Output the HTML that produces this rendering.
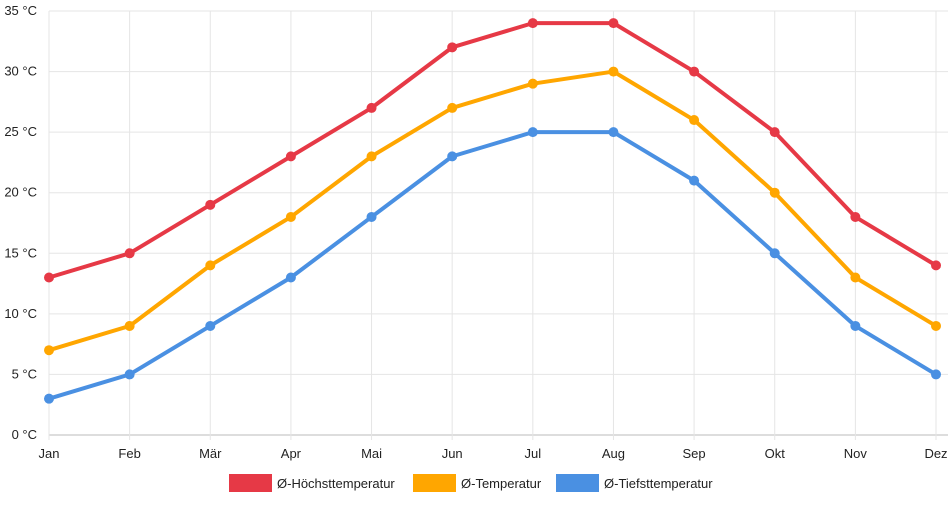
<!DOCTYPE html>
<html><head><meta charset="utf-8"><style>
body{margin:0;background:#fff;font-family:"Liberation Sans",sans-serif;}
svg text{font-family:"Liberation Sans",sans-serif;font-size:13px;fill:#222;}
</style></head><body>
<svg id="chart" width="952" height="500" viewBox="0 0 952 500"></svg>
<script>
const categories=["Jan","Feb","Mär","Apr","Mai","Jun","Jul","Aug","Sep","Okt","Nov","Dez"];
const highTemps=[13,15,19,23,27,32,34,34,30,25,18,14];
const meanTemps=[7,9,14,18,23,27,29,30,26,20,13,9];
const lowTemps=[3,5,9,13,18,23,25,25,21,15,9,5];
const yTicks=[0,5,10,15,20,25,30,35];
const seriesNames=["Ø-Höchsttemperatur","Ø-Temperatur","Ø-Tiefsttemperatur"];
const seriesColors=["#e63946","#ffa600","#4a90e2"];
const svg=document.getElementById('chart');
const NS="http://www.w3.org/2000/svg";
const x0=49,x1=936,yTop=11,yBot=435,yMax=35;
const xs=i=>x0+i*(x1-x0)/(categories.length-1);
const ys=v=>yBot-(v/yMax)*(yBot-yTop);
function mk(t,a){const e=document.createElementNS(NS,t);for(const k in a)e.setAttribute(k,a[k]);svg.appendChild(e);return e;}
yTicks.forEach(v=>{
 const l=mk('line',{x1:x0,x2:x1+12,y1:ys(v),y2:ys(v),stroke:v===0?'#bbb':'#e5e5e5','stroke-width':1});
 
 
 const t=mk('text',{x:37,y:ys(v)+4,'text-anchor':'end'});t.textContent=v+' °C';
 
 
});
categories.forEach((c,i)=>{
 const l=mk('line',{x1:xs(i),x2:xs(i),y1:yTop,y2:yBot+5,stroke:'#e5e5e5','stroke-width':1});
 
 
 const t=mk('text',{x:xs(i),y:458,'text-anchor':'middle'});t.textContent=c;
 
 
});
[highTemps,meanTemps,lowTemps].forEach((s,si)=>{
 const p=mk('polyline',{points:s.map((v,i)=>xs(i)+','+ys(v)).join(' '),fill:'none',stroke:seriesColors[si],'stroke-width':4,'stroke-linejoin':'round'});
 
 
 s.forEach((v,i)=>{
  const c=mk('circle',{cx:xs(i),cy:ys(v),r:5,fill:seriesColors[si]});
  
  
 });
});
const legX=[229,413,556];
seriesNames.forEach((n,i)=>{
 const r=mk('rect',{x:legX[i],y:474,width:43,height:18,fill:seriesColors[i]});
 
 
 const t=mk('text',{x:legX[i]+48,y:488});t.textContent=n;
 
 
});
</script>
</body></html>
